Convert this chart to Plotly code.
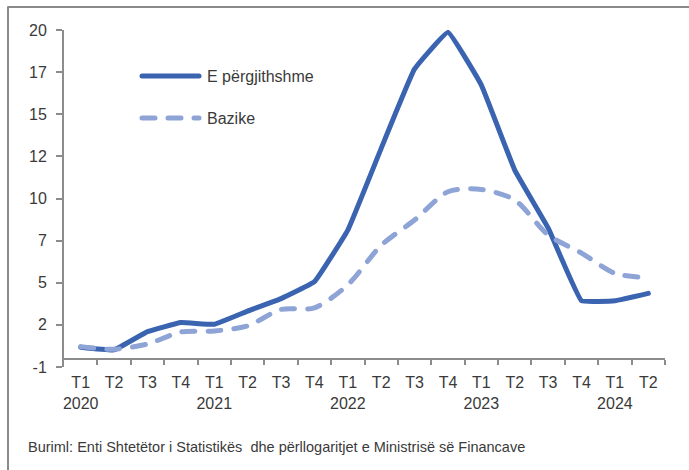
import plotly.graph_objects as go

# ---- data ----
periods = list(range(18))
tick_labels = ["T1<br>2020", "T2", "T3", "T4",
               "T1<br>2021", "T2", "T3", "T4",
               "T1<br>2022", "T2", "T3", "T4",
               "T1<br>2023", "T2", "T3", "T4",
               "T1<br>2024", "T2"]
headline = [0.70, 0.54, 1.65, 2.20, 2.10, 2.90, 3.66, 4.69,
            7.83, 12.80, 17.63, 19.86, 16.65, 11.48, 7.96, 3.53, 3.53, 3.98]
core = [0.74, 0.58, 0.90, 1.63, 1.69, 2.00, 3.00, 3.10,
        4.50, 6.90, 8.44, 10.16, 10.30, 9.66, 7.53, 6.43, 5.20, 4.93]
y_min, y_max = -0.5, 20.0
y_tick_labels = ["-1", "2", "5", "7", "10", "12", "15", "17", "20"]
series_names = ["E përgjithshme", "Bazike"]
source_text = "Buriml: Enti Shtetëtor i Statistikës  dhe përllogaritjet e Ministrisë së Financave"

# ---- layout geometry (pixels) ----
W, H = 689, 470
L, R, T, B = 64, 665, 30, 367
pw, ph = R - L, B - T

def px(x):
    return (x - L) / pw

def py(y):
    return (B - y) / ph

C_MAIN = "#3A63B0"
C_CORE = "#8EA3D6"
TXT = "#3a3a3a"
AX = "#8c8c8c"
FONT = "Liberation Sans, Arial, sans-serif"

n_y = len(y_tick_labels)
y_tick_vals = [y_min + i * (y_max - y_min) / (n_y - 1) for i in range(n_y)]

fig = go.Figure()
fig.add_trace(go.Scatter(x=periods, y=headline, mode="lines", name=series_names[0],
                         line=dict(color=C_MAIN, width=5, shape="spline", smoothing=0.25),
                         showlegend=False))
fig.add_trace(go.Scatter(x=periods, y=core, mode="lines", name=series_names[1],
                         line=dict(color=C_CORE, width=5, dash="13px,13px", shape="spline", smoothing=0.8),
                         showlegend=False))

zero_pos = (0 - y_min) / (y_max - y_min)

fig.update_layout(
    width=W, height=H,
    margin=dict(l=L, r=W - R, t=T, b=H - B),
    paper_bgcolor="white", plot_bgcolor="white",
    font=dict(family=FONT, color=TXT, size=16),
    xaxis=dict(
        range=[-0.5, len(periods) - 0.5],
        tickmode="array", tickvals=periods, ticktext=tick_labels,
        ticks="outside", ticklen=9, tickcolor="rgba(0,0,0,0)",
        showline=True, linecolor=AX, linewidth=2,
        showgrid=False, zeroline=False,
        anchor="free", position=zero_pos,
        tickfont=dict(size=16, color=TXT),
        minor=dict(tickmode="array", tickvals=[p + 0.5 for p in periods],
                   ticks="outside", ticklen=5, tickcolor=AX, tickwidth=2, showgrid=False),
    ),
    yaxis=dict(
        range=[y_min, y_max],
        tickmode="array", tickvals=y_tick_vals, ticktext=y_tick_labels,
        ticks="outside", ticklen=6, tickcolor=AX, tickwidth=2,
        showline=True, linecolor=AX, linewidth=2,
        showgrid=False, zeroline=False,
        tickfont=dict(size=16, color=TXT),
        ticklabelstandoff=6,
    ),
)

# outer frame
fig.add_shape(type="rect", xref="paper", yref="paper",
              x0=px(8), x1=px(720), y0=py(500), y1=py(7),
              line=dict(color="#8a8a8a", width=2), fillcolor="rgba(0,0,0,0)", layer="below")

# manual legend
legend_rows = [(76, C_MAIN, "solid"), (118, C_CORE, "13px,13px")]
for name, (yy, col, dash) in zip(series_names, legend_rows):
    fig.add_shape(type="line", xref="paper", yref="paper",
                  x0=px(142), x1=px(199), y0=py(yy), y1=py(yy),
                  line=dict(color=col, width=5, dash=dash))
    fig.add_annotation(text=name, xref="paper", yref="paper", x=px(205), y=py(yy),
                       xanchor="left", yanchor="middle", showarrow=False,
                       font=dict(size=16, color=TXT))

fig.add_annotation(text=source_text, xref="paper", yref="paper", x=px(26), y=py(447),
                   xanchor="left", yanchor="middle", showarrow=False,
                   font=dict(size=14.5, color=TXT))

post = """
document.body.style.margin = '0';
document.body.style.overflow = 'hidden';
var gd = document.getElementById('{plot_id}');
function fixCaps(){
  gd.querySelectorAll('.scatterlayer path.js-line, .shapelayer path').forEach(function(p){
    p.style.strokeLinecap = 'round'; p.style.strokeLinejoin = 'round';
  });
}
fixCaps();
gd.on('plotly_afterplot', fixCaps);
"""

fig.write_html("out.html", config={"displayModeBar": False}, post_script=post)
